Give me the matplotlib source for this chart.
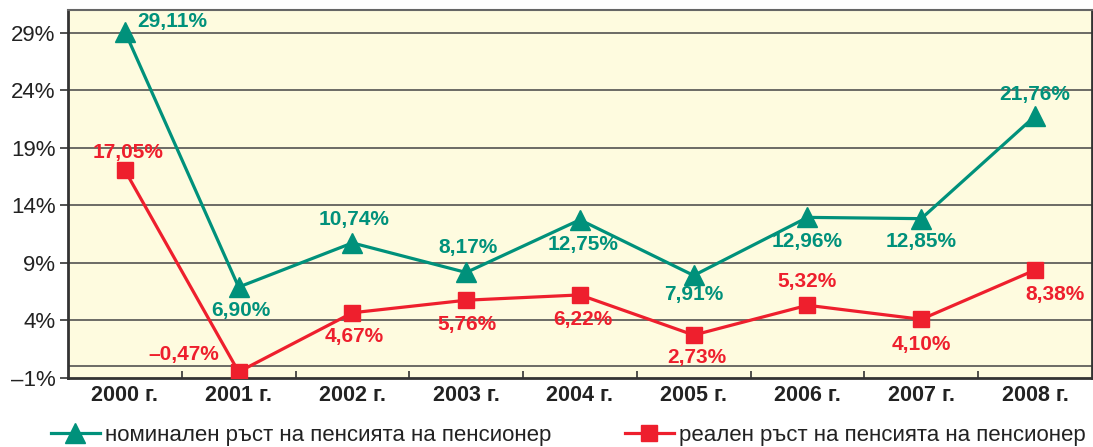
import matplotlib
matplotlib.use('Agg')
import matplotlib.pyplot as plt
from matplotlib.ticker import FixedLocator

plt.rcParams['font.family'] = ['Liberation Sans', 'DejaVu Sans']

years = ['2000 г.', '2001 г.', '2002 г.', '2003 г.', '2004 г.', '2005 г.', '2006 г.', '2007 г.', '2008 г.']
nominal = [29.11, 6.90, 10.74, 8.17, 12.75, 7.91, 12.96, 12.85, 21.76]
real = [17.05, -0.47, 4.67, 5.76, 6.22, 2.73, 5.32, 4.10, 8.38]
nominal_name = 'номинален ръст на пенсията на пенсионер'
real_name = 'реален ръст на пенсията на пенсионер'
yticks = [-1, 4, 9, 14, 19, 24, 29]

teal = '#00917b'
red = '#ee1f2d'

# label offsets in pixels (dx, dy)
nom_off = [(47, 10), (2, -23), (2, 23), (2, 25), (3, -25), (0, -19), (0, -24), (0, -23), (0, 22)]
real_off = [(3, 18), (-55, 17), (2, -24), (1, -24), (3, -25), (3, -22), (0, 24), (0, -25), (20, -24)]

fig = plt.figure(figsize=(10.93, 4.47), dpi=100)
ax = fig.add_axes([0.0622, 0.1544, 0.9368, 0.8236])
ax.set_facecolor('#fefbdf')

x = list(range(len(years)))
ax.set_xlim(-0.5, 8.5)
ax.set_ylim(-1, 31)

for v in yticks[1:] + [0]:
    ax.axhline(v, color='#444444', lw=1.1, zorder=1)

ax.plot(x, nominal, color=teal, lw=2.3, marker='^', ms=15, zorder=3, label=nominal_name)
ax.plot(x, real, color=red, lw=2.3, marker='s', ms=12, zorder=3, label=real_name)

def fmt(v):
    s = f'{abs(v):.2f}'.replace('.', ',') + '%'
    return ('\u2013' + s) if v < 0 else s

for i, v in enumerate(nominal):
    ax.annotate(fmt(v), (i, v), xytext=nom_off[i], textcoords='offset pixels',
                ha='center', va='center', color=teal, fontsize=15, fontweight='bold', zorder=4)
for i, v in enumerate(real):
    ax.annotate(fmt(v), (i, v), xytext=real_off[i], textcoords='offset pixels',
                ha='center', va='center', color=red, fontsize=15, fontweight='bold', zorder=4)

ax.set_yticks(yticks)
ax.set_yticklabels([(('\u2013' + str(abs(t))) if t < 0 else str(t)) + '%' for t in yticks],
                   fontsize=16, color='#222222')
ax.set_xticks(x)
ax.set_xticklabels(years, fontsize=15.5, fontweight='bold', color='#222222')
ax.xaxis.set_minor_locator(FixedLocator([i + 0.5 for i in range(8)]))
ax.tick_params(axis='x', which='major', length=0, pad=5)
ax.tick_params(axis='x', which='minor', length=5, direction='in', color='#333333', width=1.2)
ax.tick_params(axis='y', length=6, width=1.2, color='#333333', pad=3)

for s in ['left', 'bottom', 'right']:
    ax.spines[s].set_color('#333333')
    ax.spines[s].set_linewidth(2)
ax.spines['top'].set_color('#666666')
ax.spines['top'].set_linewidth(1.5)

fig.legend(loc='center', bbox_to_anchor=(0.52, 0.026), ncol=2, frameon=False,
           fontsize=16, handlelength=2.2, handletextpad=0.25, columnspacing=3.3,
           labelcolor='#222222')

fig.savefig('out.png', dpi=100)
